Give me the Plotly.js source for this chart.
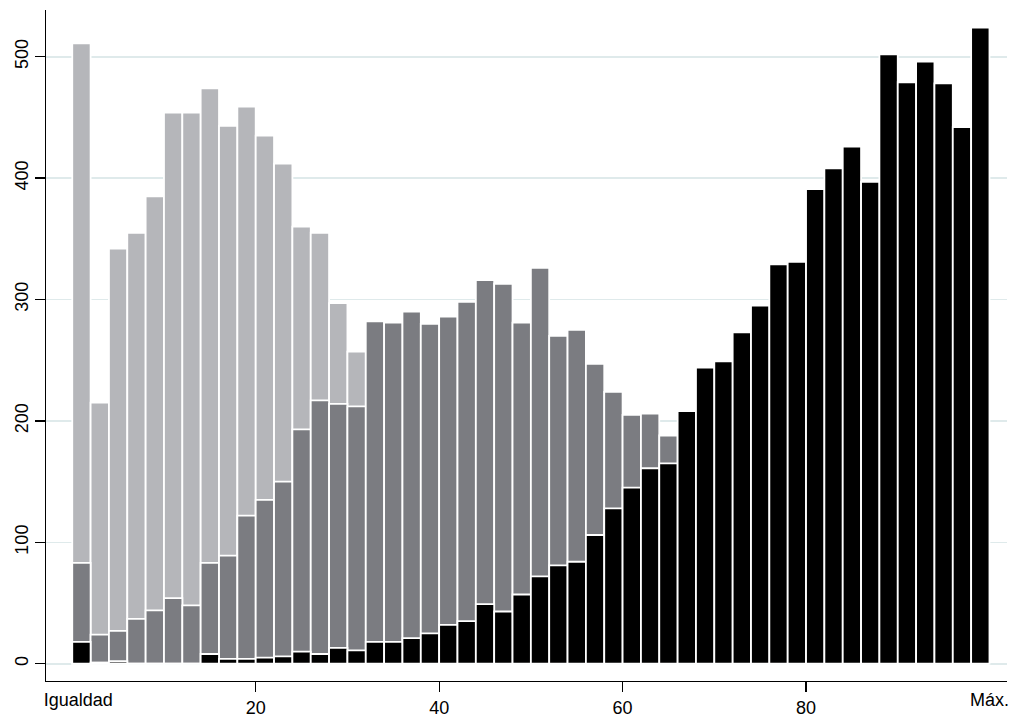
<!DOCTYPE html>
<html>
<head>
<meta charset="utf-8">
<script src="https://cdn.plot.ly/plotly-3.0.1.min.js"></script>
<style>html,body{margin:0;padding:0;background:#fff;}#chart{width:1013px;height:720px;}</style>
</head>
<body>
<div id="chart"></div>
<script>
// Bin centres (bins of width 2 from 0 to 100)
var binCenters = [1,3,5,7,9,11,13,15,17,19,21,23,25,27,29,31,33,35,37,39,41,43,45,47,49,
                  51,53,55,57,59,61,63,65,67,69,71,73,75,77,79,81,83,85,87,89,91,93,95,97,99];

// Light grey series (hidden parts behind the darker bars left at 0)
var lightGrey = [511,215,342,355,385,454,454,474,443,459,435,412,360,355,297,257,
                 0,0,0,0,0,0,0,0,0,0,0,0,0,0,0,0,0,0,0,0,0,0,0,0,0,0,0,0,0,0,0,0,0,0];

// Dark grey series
var darkGrey = [83,24,27,37,44,54,48,83,89,122,135,150,193,217,214,212,
                282,281,290,280,286,298,316,313,281,326,270,275,247,224,205,206,188,
                0,0,0,0,0,0,0,0,0,0,0,0,0,0,0,0,0];

// Black series
var blackSeries = [18,1,2,0,0,0,0,8,4,4,5,6,10,8,13,11,18,18,21,25,32,35,49,43,57,72,
                   81,84,106,128,145,161,165,208,244,249,273,295,329,331,
                   391,408,426,397,502,479,496,478,442,524];

var yTicks = [0,100,200,300,400,500];
var xTicks = [20,40,60,80];
var endLabelVals = [0.65,100];
var endLabelText = ['Igualdad','Máx.'];

var FONT = '"Liberation Sans", Arial, Helvetica, sans-serif';
var outline = {color:'#ffffff', width:1.8};

function barTrace(vals, color){
  return {type:'bar', x:binCenters, y:vals, width:2,
          marker:{color:color, line:outline}, hoverinfo:'skip', showlegend:false};
}

var data = [
  barTrace(lightGrey,'#b5b6ba'),
  barTrace(darkGrey,'#7b7c81'),
  barTrace(blackSeries,'#000000'),
  {type:'scatter', x:[endLabelVals[0]], y:[null], xaxis:'x2', yaxis:'y', showlegend:false, hoverinfo:'skip'}
];

var layout = {
  width:1013, height:720,
  margin:{l:46, r:6, t:10, b:39, pad:0},
  paper_bgcolor:'#ffffff', plot_bgcolor:'#ffffff',
  barmode:'overlay', bargap:0,
  font:{family:FONT, size:18, color:'#000000'},
  xaxis:{range:[-2.863,101.91], tickvals:xTicks, ticktext:xTicks.map(String),
         ticks:'outside', ticklen:10, tickwidth:1.3, tickcolor:'#000',
         showline:true, linecolor:'#000', linewidth:1.3, showgrid:false, zeroline:false,
         tickfont:{family:FONT, size:18, color:'#000'}, ticklabelstandoff:0},
  xaxis2:{overlaying:'x', matches:'x', anchor:'y', side:'bottom', range:[-2.863,101.91],
          tickvals:endLabelVals, ticktext:endLabelText, ticks:'', showline:false,
          showgrid:false, zeroline:false, tickfont:{family:FONT, size:18, color:'#000'},
          ticklabelstandoff:6},
  yaxis:{range:[-14.25,538.5], tickvals:yTicks, ticktext:yTicks.map(String), tickangle:-90,
         ticks:'outside', ticklen:10, tickwidth:1.3, tickcolor:'#000',
         showline:true, linecolor:'#000', linewidth:1.3,
         showgrid:true, gridcolor:'#dfeaeb', gridwidth:1.6, zeroline:false,
         tickfont:{family:FONT, size:18, color:'#000'}, ticklabelstandoff:0}
};

Plotly.newPlot('chart', data, layout, {displayModeBar:false, staticPlot:true});
</script>
</body>
</html>
